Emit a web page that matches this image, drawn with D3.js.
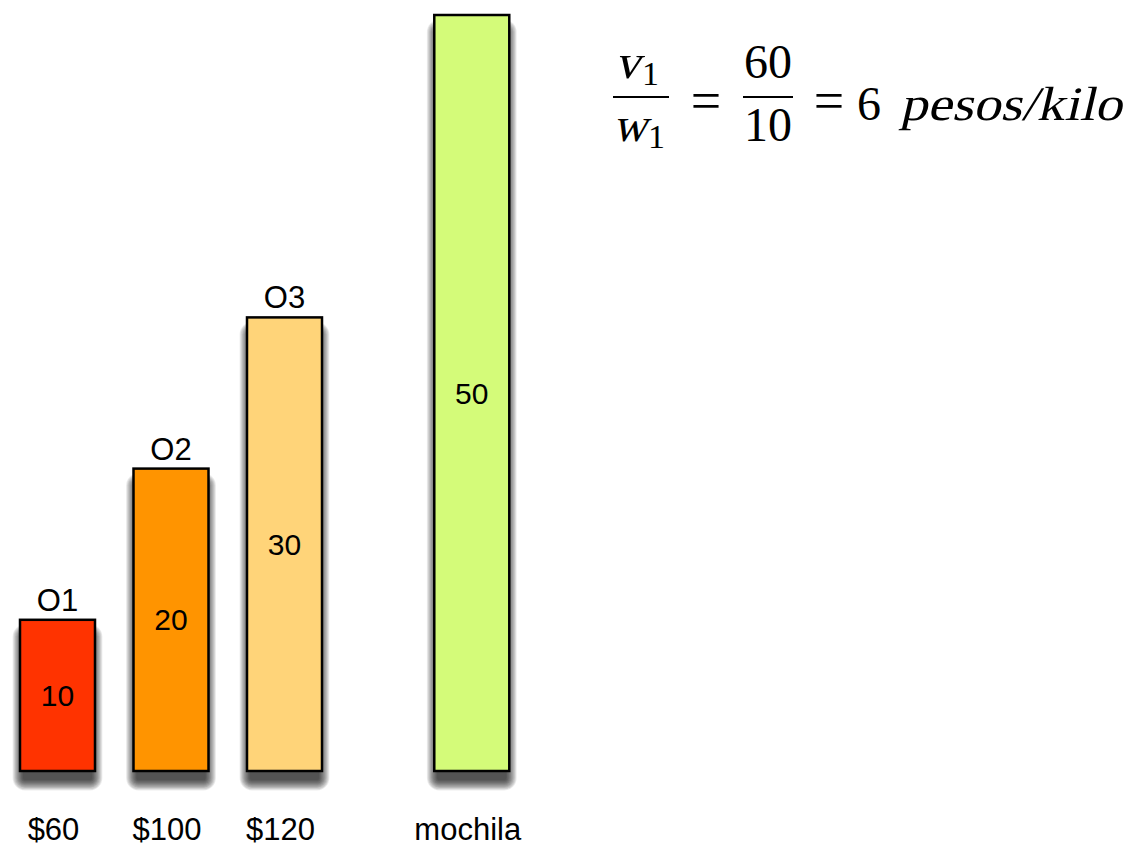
<!DOCTYPE html>
<html>
<head>
<meta charset="utf-8">
<script src="https://cdn.jsdelivr.net/npm/d3@7"></script>
<style>
  html, body { margin: 0; padding: 0; background: #fff; }
  svg { display: block; }
</style>
</head>
<body>
<svg id="chart" width="1132" height="846"></svg>
<script>
// Items and the knapsack: weight (kilos) of each, label above and below.
const categories = ["O1", "O2", "O3", "mochila"];
const weights = [10, 20, 30, 50];
const topLabels = ["O1", "O2", "O3", ""];
const bottomLabels = ["$60", "$100", "$120", "mochila"];
const colors = ["#FF3300", "#FF9400", "#FFD479", "#D4FB79"];

const svg = d3.select("#chart");

// The knapsack bar sits a little apart from the three items.
const slot = d3.scaleOrdinal().domain(categories).range([0, 1, 2, 3.65]);
const xs = d3.scaleLinear().domain([0, 1]).range([20, 133.5]);
const barW = 75;
const y = d3.scaleLinear().domain([0, 50]).range([771, 15]);

const data = categories.map((c, i) => ({
  c, w: weights[i], top: topLabels[i], bottom: bottomLabels[i], color: colors[i]
}));

const g = svg.append("g");
const bars = g.selectAll("g.bar").data(data).join("g").attr("class", "bar");

// Soft shadow: stacked translucent rounded rects, offset downwards
const shadowSteps = d3.range(0, 14);
const shadowDy = 12;
bars.each(function (d) {
  const x0 = xs(slot(d.c)), y0 = y(d.w), h = y(0) - y(d.w);
  d3.select(this).selectAll("rect.shade").data(shadowSteps).join("rect")
    .attr("class", "shade")
    .attr("x", k => x0 + 3 - k * 0.8)
    .attr("y", k => y0 + shadowDy + 3 - k * 0.8)
    .attr("width", k => barW - 6 + k * 1.6)
    .attr("height", k => h - 6 + k * 1.6)
    .attr("rx", k => 2 + k * 0.8)
    .attr("fill", "#000")
    .attr("fill-opacity", 0.075);
});

bars.append("rect")
  .attr("x", d => xs(slot(d.c)))
  .attr("y", d => y(d.w))
  .attr("width", barW)
  .attr("height", d => y(0) - y(d.w))
  .attr("fill", d => d.color)
  .attr("stroke", "#000")
  .attr("stroke-width", 2.5);

const sans = "'Liberation Sans', Arial, Helvetica, sans-serif";

bars.append("text")
  .attr("x", d => xs(slot(d.c)) + barW / 2)
  .attr("y", d => (y(d.w) + y(0)) / 2)
  .attr("text-anchor", "middle")
  .attr("dominant-baseline", "central")
  .attr("font-family", sans).attr("font-size", 30).attr("fill", "#000")
  .text(d => d.w);

bars.append("text")
  .attr("x", d => xs(slot(d.c)) + barW / 2)
  .attr("y", d => y(d.w) - 9)
  .attr("text-anchor", "middle")
  .attr("font-family", sans).attr("font-size", 31).attr("fill", "#000")
  .text(d => d.top);

bars.append("text")
  .attr("x", d => xs(slot(d.c)) + barW / 2 - 4)
  .attr("y", 840)
  .attr("text-anchor", "middle")
  .attr("font-family", sans).attr("font-size", 31).attr("fill", "#000")
  .text(d => d.bottom);

// Value per kilo of the first item: v1 / w1 = 60 / 10 = 6 pesos/kilo
const serif = "'Liberation Serif', 'DejaVu Serif', serif";
const eq = svg.append("g").attr("font-family", serif).attr("fill", "#000");
const fs = 48;

// slanted serif text for math variables
function slanted(x, yb, txt, size, len) {
  const t = eq.append("g").attr("transform", `translate(${x},${yb}) skewX(-13)`)
    .append("text").attr("x", 0).attr("y", 0).attr("font-size", size).text(txt);
  if (len) t.attr("textLength", len).attr("lengthAdjust", "spacingAndGlyphs");
  return t;
}

function fracLine(cx, half) {
  eq.append("line").attr("x1", cx - half).attr("x2", cx + half)
    .attr("y1", 97).attr("y2", 97).attr("stroke", "#000").attr("stroke-width", 2.2);
}

// v1 / w1
slanted(615, 78, "v", 48, 25);
eq.append("text").attr("x", 642).attr("y", 85).attr("font-size", 34).text("1");
fracLine(641, 28);
slanted(613, 141, "w", 48, 34);
eq.append("text").attr("x", 648).attr("y", 148).attr("font-size", 34).text("1");

eq.append("text").attr("x", 706).attr("y", 119).attr("text-anchor", "middle")
  .attr("font-size", 54).text("=");

// 60 / 10
eq.append("text").attr("x", 768).attr("y", 78).attr("text-anchor", "middle")
  .attr("font-size", fs).text("60");
fracLine(768, 25);
eq.append("text").attr("x", 768).attr("y", 141).attr("text-anchor", "middle")
  .attr("font-size", fs).text("10");

eq.append("text").attr("x", 829).attr("y", 119).attr("text-anchor", "middle")
  .attr("font-size", 54).text("=");
eq.append("text").attr("x", 857).attr("y", 120)
  .attr("font-size", fs).text("6");
slanted(900, 120, "pesos/kilo", 48, 222);
</script>
</body>
</html>
